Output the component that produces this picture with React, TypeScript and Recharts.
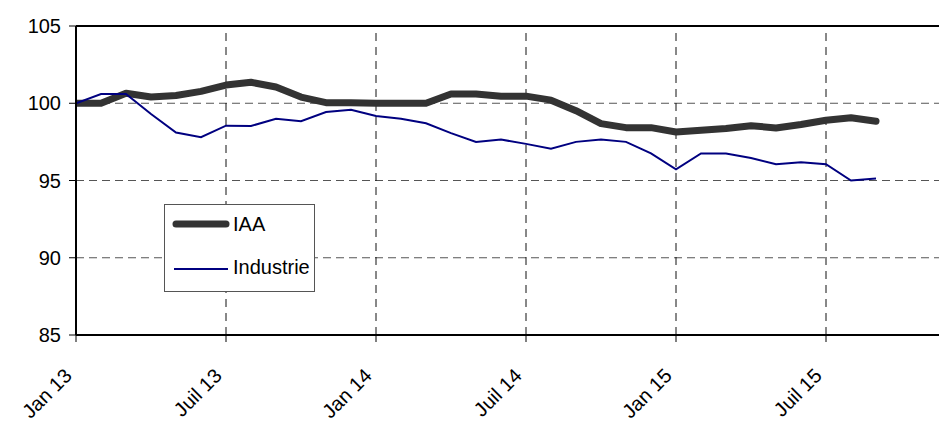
import React from "react";
import {
  LineChart, Line, XAxis, YAxis, CartesianGrid, Legend, ReferenceLine,
} from "recharts";

// monthly index, base 100 = Jan 2013
const months = [
  "Jan 13", "Fév 13", "Mar 13", "Avr 13", "Mai 13", "Juin 13",
  "Juil 13", "Août 13", "Sep 13", "Oct 13", "Nov 13", "Déc 13",
  "Jan 14", "Fév 14", "Mar 14", "Avr 14", "Mai 14", "Juin 14",
  "Juil 14", "Août 14", "Sep 14", "Oct 14", "Nov 14", "Déc 14",
  "Jan 15", "Fév 15", "Mar 15", "Avr 15", "Mai 15", "Juin 15",
  "Juil 15", "Août 15", "Sep 15",
];

const iaa = [
  100.0, 100.0, 100.65, 100.4, 100.5, 100.77, 101.18,
  101.36, 101.05, 100.4, 100.04, 100.04, 100.0,
  100.0, 100.0, 100.6, 100.6, 100.46, 100.46,
  100.2, 99.52, 98.68, 98.42, 98.42, 98.14,
  98.25, 98.36, 98.55, 98.4, 98.62, 98.9,
  99.06, 98.84,
];

const industrie = [
  100.0, 100.6, 100.6, 99.3, 98.1, 97.8, 98.55,
  98.53, 99.0, 98.84, 99.43, 99.58, 99.17,
  99.0, 98.7, 98.07, 97.5, 97.65, 97.37,
  97.06, 97.5, 97.65, 97.5, 96.75, 95.72,
  96.75, 96.75, 96.45, 96.05, 96.18, 96.05,
  95.0, 95.13,
];

const xTicks = [0, 6, 12, 18, 24, 30];
const yTicks = [85, 90, 95, 100, 105];

const data = months.map((m, i) => ({ idx: i, month: m, IAA: iaa[i], Industrie: industrie[i] }));

const FONT = "'Liberation Sans', Arial, sans-serif";

function XTick(props: any) {
  const { x, y, payload } = props;
  const ax = x - 3;
  const ay = y + 35;
  return (
    <text
      x={ax}
      y={ay}
      transform={`rotate(-45, ${ax}, ${ay})`}
      textAnchor="end"
      fontSize={20}
      fontFamily={FONT}
      fill="#000"
    >
      {months[payload.value]}
    </text>
  );
}

function LegendBox() {
  return (
    <div style={{ width: 149, height: 86, border: "1px solid #555", background: "#fff" }}>
      <svg width={149} height={86} style={{ display: "block" }}>
        <line x1={11} y1={19} x2={61} y2={19} stroke="#333333" strokeWidth={7} strokeLinecap="round" />
        <text x={68} y={19} dy="0.35em" fontSize={20} fontFamily={FONT} fill="#000">IAA</text>
        <line x1={9} y1={64} x2={63} y2={64} stroke="#000080" strokeWidth={2} />
        <text x={68} y={62} dy="0.35em" fontSize={20} fontFamily={FONT} fill="#000">Industrie</text>
      </svg>
    </div>
  );
}

export default function App() {
  return (
    <div style={{ position: "absolute", left: 0, top: 0, width: 939, height: 421, overflow: "hidden" }}>
      <LineChart width={960} height={421} data={data} margin={{ top: 26, right: 0, left: 0, bottom: 0 }}>
        <CartesianGrid stroke="#555" strokeDasharray="8 5" vertical={false} />
        {xTicks.slice(1).map((t) => (
          <ReferenceLine key={t} x={t} stroke="#111" strokeDasharray="8 6" />
        ))}
        <ReferenceLine y={105} stroke="#000" strokeWidth={2} />
        <XAxis
          dataKey="idx"
          type="number"
          domain={[0, 35.36]}
          ticks={xTicks}
          allowDataOverflow
          height={86}
          tickSize={7}
          tickMargin={0}
          tick={<XTick />}
          axisLine={{ stroke: "#000", strokeWidth: 2 }}
          tickLine={{ stroke: "#000" }}
        />
        <YAxis
          domain={[85, 105]}
          ticks={yTicks}
          width={76}
          tickSize={7}
          tickMargin={8}
          tick={{ fontSize: 20, fontFamily: FONT, fill: "#000" }}
          axisLine={{ stroke: "#000", strokeWidth: 2 }}
          tickLine={{ stroke: "#000" }}
        />
        <Legend
          layout="horizontal"
          verticalAlign="middle"
          align="center"
          content={<LegendBox />}
          wrapperStyle={{ left: 164, top: 204, width: "auto", height: "auto" }}
        />
        <Line
          dataKey="IAA"
          stroke="#333333"
          strokeWidth={7}
          strokeLinecap="round"
          strokeLinejoin="round"
          dot={false}
          isAnimationActive={false}
        />
        <Line
          dataKey="Industrie"
          stroke="#000080"
          strokeWidth={2}
          dot={false}
          isAnimationActive={false}
        />
      </LineChart>
    </div>
  );
}
